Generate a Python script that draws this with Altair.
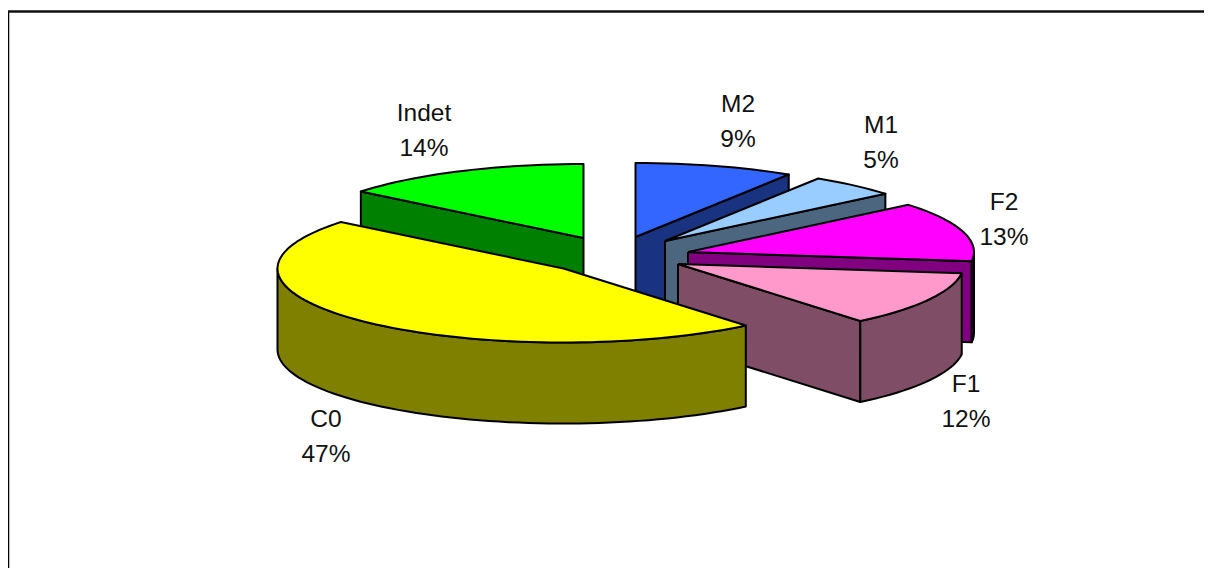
import math
import altair as alt
import pandas as pd

# Values (percent), in clockwise order from twelve o'clock
categories = ["M2", "M1", "F2", "F1", "C0", "Indet"]
shares = [9, 5, 13, 12, 46.8, 14.2]

# Styles and layout
top_colors = ["#3366ff", "#99ccff", "#ff00ff", "#ff99cc", "#ffff00", "#00ff00"]
wall_colors = ["#1a3380", "#4d6680", "#800080", "#804d66", "#808000", "#008000"]
apex_x = [635.5, 665, 688, 678, 563.5, 583.5]
apex_y = [237, 241, 252, 264, 268.5, 238]
label_x = [738, 881, 1004, 966, 326, 424]
label_y = [112, 133, 210, 392, 427, 121]
label_gap = 34.5
RX, RY, DEPTH = 286, 74, 81
W, H = 1196, 560
draw_order = [5, 0, 1, 2, 3, 4]

x_scale = alt.Scale(domain=[8, 8 + W], range=[0, W], nice=False, zero=False)
y_scale = alt.Scale(domain=[8 + H, 8], range=[H, 0], nice=False, zero=False)


def rim(cx, cy, t):
    r = math.radians(t)
    return cx + RX * math.sin(r), cy - RY * math.cos(r)


def arc(cx, cy, t0, t1):
    n = max(2, int(abs(t1 - t0) / 2) + 1)
    return [rim(cx, cy, t0 + (t1 - t0) * i / (n - 1)) for i in range(n)]


def face(points, fill):
    pts = points + [points[0]]
    df = pd.DataFrame({"px": [p[0] for p in pts], "py": [p[1] for p in pts], "i": range(len(pts))})
    return (
        alt.Chart(df)
        .mark_line(fill=fill, stroke="black", strokeWidth=2, strokeJoin="round", clip=False)
        .encode(
            x=alt.X("px:Q", scale=x_scale, axis=None),
            y=alt.Y("py:Q", scale=y_scale, axis=None),
            order="i:Q",
        )
    )


def down(points):
    return [(x, y + DEPTH) for x, y in points]


total = sum(shares)
edges = [0.0]
for s in shares:
    edges.append(edges[-1] + 360.0 * s / total)

layers = []
for k in draw_order:
    cx, cy = apex_x[k], apex_y[k]
    t0, t1 = edges[k], edges[k + 1]
    wall = wall_colors[k]
    for t, show in ((t0, math.sin(math.radians(t0)) < -1e-6), (t1, math.sin(math.radians(t1)) > 1e-6)):
        if show:
            edge = [(cx, cy), rim(cx, cy, t)]
            layers.append(face(edge + down(edge)[::-1], wall))
    a, b = max(t0, 90.0), min(t1, 270.0)
    if a < b:
        curve = arc(cx, cy, a, b)
        layers.append(face(curve + down(curve)[::-1], wall))
    layers.append(face([(cx, cy)] + arc(cx, cy, t0, t1), top_colors[k]))

rows = []
for name, share, lx, ly in zip(categories, shares, label_x, label_y):
    rows.append({"px": lx, "py": ly, "label": name})
    rows.append({"px": lx, "py": ly + label_gap, "label": f"{round(share)}%"})

labels = (
    alt.Chart(pd.DataFrame(rows))
    .mark_text(font="Liberation Sans", fontSize=24.5, color="#111111", align="center", baseline="alphabetic")
    .encode(
        x=alt.X("px:Q", scale=x_scale, axis=None),
        y=alt.Y("py:Q", scale=y_scale, axis=None),
        text="label:N",
    )
)

frame_left = alt.Chart(pd.DataFrame({"a": [0]})).mark_rule(color="black", strokeWidth=2.5).encode(
    x=alt.value(0), y=alt.value(3), y2=alt.value(H)
)
frame_top = alt.Chart(pd.DataFrame({"a": [0]})).mark_rule(color="#111111", strokeWidth=2.4).encode(
    x=alt.value(0), x2=alt.value(W), y=alt.value(3.5)
)

chart = (
    alt.layer(frame_left, frame_top, *layers, labels)
    .properties(width=W, height=H, padding=0, background="white", autosize=alt.AutoSizeParams(type="none"))
    .configure_view(stroke=None)
)

chart.save("out.html", embed_options={"renderer": "svg", "actions": False})
